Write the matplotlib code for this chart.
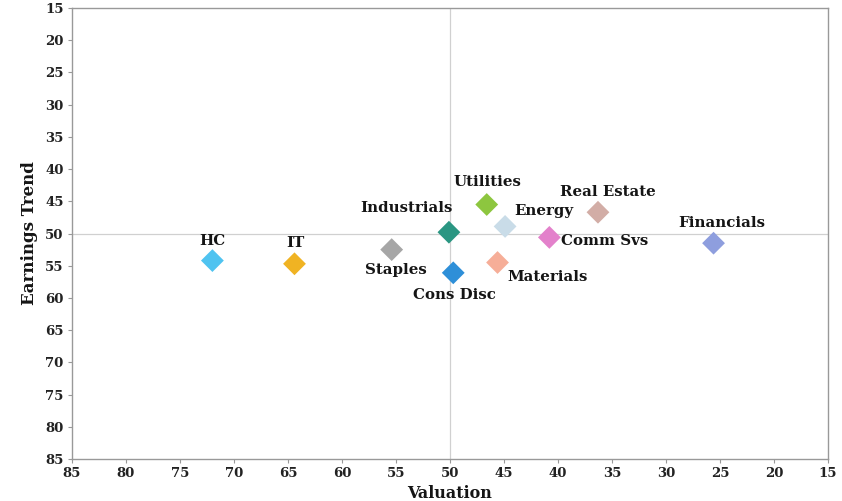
import matplotlib
matplotlib.use("Agg")
import matplotlib.pyplot as plt

# Sector positioning: valuation vs earnings trend scores
sectors = ["HC", "IT", "Staples", "Industrials", "Cons Disc", "Utilities",
           "Energy", "Materials", "Comm Svs", "Real Estate", "Financials"]
valuation = [72.0, 64.4, 55.4, 50.1, 49.7, 46.6, 44.9, 45.6, 40.8, 36.3, 25.6]
earnings = [54.2, 54.7, 52.5, 49.8, 56.1, 45.5, 48.9, 54.5, 50.6, 46.7, 51.5]
colors = ["#4FC3F0", "#F0B323", "#A6A6A6", "#2A9682", "#2E8FD8", "#8DC63F",
          "#C9DCE8", "#F6AE98", "#E381CB", "#D2ADA6", "#8E9EDE"]

ticks = [85, 80, 75, 70, 65, 60, 55, 50, 45, 40, 35, 30, 25, 20, 15]

# label offsets in pixels (dx, dy) and alignment per sector
label_pos = {
    "HC": (0, 20, "center"),
    "IT": (1, 21, "center"),
    "Staples": (4, -20, "center"),
    "Industrials": (-42, 24, "center"),
    "Cons Disc": (1, -22, "center"),
    "Utilities": (1, 23, "center"),
    "Energy": (39, 15, "center"),
    "Materials": (10, -14, "left"),
    "Comm Svs": (12, -4, "left"),
    "Real Estate": (10, 20, "center"),
    "Financials": (8, 20, "center"),
}

font = "DejaVu Serif"
fig = plt.figure(figsize=(8.42, 5.01), dpi=100)
ax = fig.add_axes([0.0855, 0.0838, 0.8979, 0.9002])

ax.set_xlim(85, 15)
ax.set_ylim(85, 15)
ax.axvline(50, color="#D0D0D0", lw=0.9, zorder=1)
ax.axhline(50, color="#D0D0D0", lw=0.9, zorder=1)

ax.scatter(valuation, earnings, marker="D", s=135, c=colors,
           edgecolors="none", zorder=3)

for name, x, y in zip(sectors, valuation, earnings):
    dx, dy, ha = label_pos[name]
    ax.annotate(name, (x, y), xytext=(dx, dy), textcoords="offset pixels",
                ha=ha, va="center", fontsize=10.8, fontweight="bold",
                family=font, color="#151515")

ax.set_xticks(ticks)
ax.set_yticks(ticks)
for lab in ax.get_xticklabels() + ax.get_yticklabels():
    lab.set_fontfamily(font)
    lab.set_fontweight("bold")
    lab.set_fontsize(9.5)
    lab.set_color("#222222")
ax.tick_params(length=3, width=0.8, color="#999999", pad=3)

for s in ax.spines.values():
    s.set_color("#999999")
    s.set_linewidth(1.0)

ax.set_xlabel("Valuation", family=font, fontweight="bold", fontsize=11.5,
              color="#151515", labelpad=3)
ax.set_ylabel("Earnings Trend", family=font, fontweight="bold", fontsize=12,
              color="#151515", labelpad=5)

fig.savefig("out.png", dpi=100)
